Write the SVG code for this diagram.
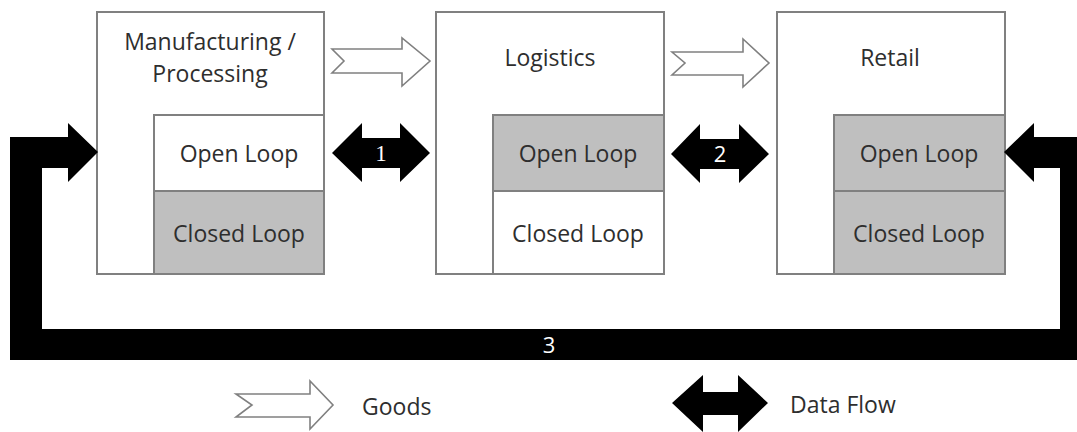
<svg xmlns="http://www.w3.org/2000/svg" width="1077" height="432" viewBox="0 0 1077 432">
  <style>
    .frame { fill: #ffffff; stroke: #808080; stroke-width: 2; }
    .cell-white { fill: #ffffff; stroke: #808080; stroke-width: 2; }
    .cell-grey { fill: #bfbfbf; stroke: #808080; stroke-width: 2; }
    .title { font-family: "Open Sans", "Liberation Sans", sans-serif; font-size: 23px; fill: #2e2e2e; text-anchor: middle; }
    .goods { fill: #ffffff; stroke: #808080; stroke-width: 1.6; stroke-linejoin: miter; }
    .data { fill: #000000; }
    .num-serif { font-family: "Liberation Serif", serif; font-size: 23px; fill: #ffffff; text-anchor: middle; }
    .num-sans { font-family: "Open Sans", "Liberation Sans", sans-serif; font-size: 22px; fill: #ffffff; text-anchor: middle; }
    .legend { font-family: "Open Sans", "Liberation Sans", sans-serif; font-size: 23px; fill: #2e2e2e; }
  </style>

  <!-- Manufacturing / Processing -->
  <g id="manufacturing">
    <rect class="frame" x="97" y="12" width="227" height="262"/>
    <rect class="cell-white" x="154" y="115" width="170" height="76"/>
    <rect class="cell-grey" x="154" y="191" width="170" height="83"/>
    <text class="title" x="210" y="50">Manufacturing /</text>
    <text class="title" x="210" y="82">Processing</text>
    <text class="title" x="239" y="162">Open Loop</text>
    <text class="title" x="239" y="242">Closed Loop</text>
  </g>

  <!-- Logistics -->
  <g id="logistics">
    <rect class="frame" x="436" y="12" width="228" height="262"/>
    <rect class="cell-grey" x="493" y="115" width="171" height="76"/>
    <rect class="cell-white" x="493" y="191" width="171" height="83"/>
    <text class="title" x="550" y="66">Logistics</text>
    <text class="title" x="578" y="162">Open Loop</text>
    <text class="title" x="578" y="242">Closed Loop</text>
  </g>

  <!-- Retail -->
  <g id="retail">
    <rect class="frame" x="777" y="12" width="228" height="262"/>
    <rect class="cell-grey" x="834" y="115" width="171" height="76"/>
    <rect class="cell-grey" x="834" y="191" width="171" height="83"/>
    <text class="title" x="890" y="66">Retail</text>
    <text class="title" x="919" y="162">Open Loop</text>
    <text class="title" x="919" y="242">Closed Loop</text>
  </g>

  <!-- Flows between stages -->
  <g id="connectors">
    <!-- goods flow -->
    <polygon class="goods" points="332,49 402,49 402,38 430,61 402,86 402,73 332,73 344,61"/>
    <polygon class="goods" points="672,52 743,52 743,39 769,63 743,87 743,75 672,75 685,63"/>
    <!-- data flow 1 -->
    <polygon class="data" points="332,153 362,123 362,138 400,138 400,123 430,153 400,182 400,168 362,168 362,182"/>
    <text class="num-serif" x="381" y="161">1</text>
    <!-- data flow 2 -->
    <polygon class="data" points="671,154 700,124 700,139 739,139 739,124 769,154 739,183 739,169 700,169 700,183"/>
    <text class="num-sans" x="720" y="162">2</text>
    <!-- data flow 3: retail back to manufacturing -->
    <polygon class="data" points="98,152 68,123 68,137 10,137 10,360 1092,360 1092,137 1034,137 1034,123 1004,152 1034,182 1034,168 1060,168 1060,329 42,329 42,168 68,168 68,182"/>
    <text class="num-sans" x="549" y="353">3</text>
  </g>

  <!-- Legend -->
  <g id="legend">
    <polygon class="goods" points="236,394 310,394 310,381 333,405 310,429 310,417 236,417 252,405"/>
    <text class="legend" x="362" y="415">Goods</text>
    <polygon class="data" points="672,403 703,375 703,392 738,392 738,375 768,403 738,432 738,415 703,415 703,432"/>
    <text class="legend" x="790" y="413">Data Flow</text>
  </g>
</svg>
